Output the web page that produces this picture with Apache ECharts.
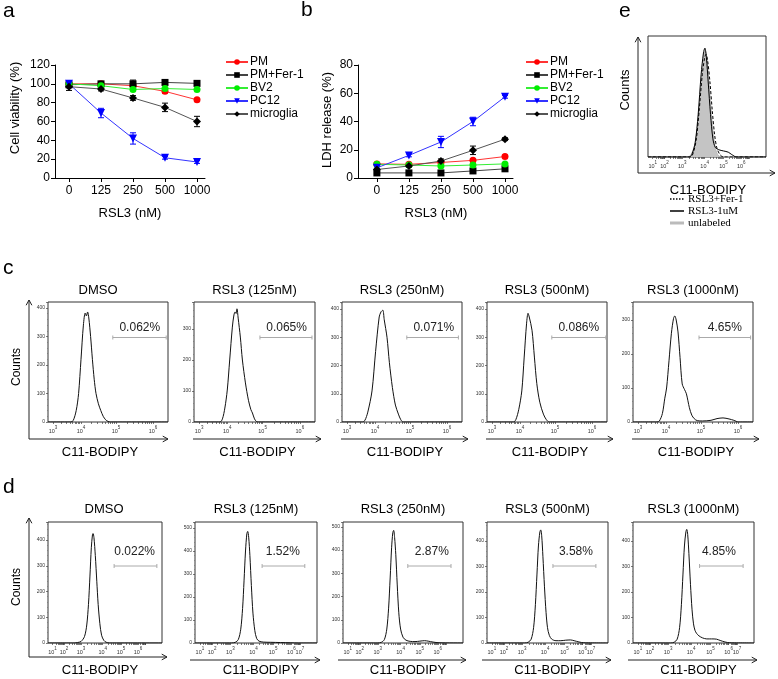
<!DOCTYPE html>
<html><head><meta charset="utf-8">
<script src="https://cdn.jsdelivr.net/npm/echarts@6/dist/echarts.min.js"></script>
<style>html,body{margin:0;padding:0;background:#fff}#c{width:778px;height:679px}</style>
</head><body><div id="c"></div>
<script>
// ---------------- DATA ----------------
const doses = ['0','125','250','500','1000'];
const groupNames = ['PM','PM+Fer-1','BV2','PC12','microglia'];

// a: cell viability (%)
const viabPM    = [100, 100, 98, 92, 83];
const viabPMFer = [99, 100, 100, 101.5, 100.5];
const viabBV2   = [100, 98, 94, 95, 94];
const viabPC12  = [100, 69, 42, 21.5, 17];
const viabMicro = [97, 94.5, 85, 75, 60];
const viabErrPM    = [2, 1.5, 2, 2, 1.5];
const viabErrPMFer = [3, 1.5, 4, 1.5, 1];
const viabErrBV2   = [1, 1, 1, 1, 1];
const viabErrPC12  = [2, 5, 6, 1.5, 1.5];
const viabErrMicro = [4, 2, 2.5, 4.5, 5.5];

// b: LDH release (%)
const ldhPM    = [10, 9.7, 11, 12.5, 15.2];
const ldhPMFer = [3.6, 3.6, 3.6, 5, 6.5];
const ldhBV2   = [9.7, 9.2, 8.5, 9.2, 10];
const ldhPC12  = [7.2, 16, 25.5, 40, 57.5];
const ldhMicro = [6, 8.5, 12, 19.6, 27.5];
const ldhErrPM    = [1, 1, 1, 1, 1];
const ldhErrPMFer = [0.5, 0.5, 0.5, 0.5, 0.5];
const ldhErrBV2   = [1, 0.8, 0.8, 0.8, 0.8];
const ldhErrPC12  = [1, 1, 4, 3, 1];
const ldhErrMicro = [1, 1, 1.5, 3, 1];

// c: histograms [channel (0-1000), counts]
const cDMSO = [[0,0],[190,0],[210,5],[235,40],[255,100],[275,220],[295,340],[310,382],[320,372],[330,386],[340,365],[355,300],[370,220],[385,150],[400,100],[420,64],[440,40],[460,20],[480,8],[500,2],[520,0],[1000,0]];
const c125  = [[0,0],[215,0],[235,10],[255,45],[275,103],[295,200],[317,306],[330,345],[340,355],[348,350],[355,365],[365,335],[383,274],[400,200],[425,126],[450,70],[470,40],[483,29],[500,10],[515,2],[530,0],[1000,0]];
const c250  = [[0,0],[170,0],[190,5],[215,35],[250,110],[280,250],[310,372],[325,390],[340,396],[352,362],[375,300],[395,210],[420,122],[445,60],[470,28],[490,8],[510,0],[1000,0]];
const c500  = [[0,0],[220,0],[240,8],[265,45],[290,110],[310,230],[330,350],[342,385],[352,372],[375,325],[395,230],[415,136],[440,70],[470,28],[495,8],[520,0],[1000,0]];
const c1000 = [[0,0],[200,0],[220,3],[245,25],[265,70],[280,100],[300,180],[320,261],[338,305],[348,312],[360,300],[375,265],[392,190],[410,112],[430,95],[445,83],[470,42],[490,20],[510,10],[535,4],[580,3],[650,5],[700,10],[750,12],[800,9],[840,5],[880,0],[1000,0]];

// d: histograms
const dDMSO = [[0,0],[230,0],[260,2],[290,6],[320,25],[340,70],[355,150],[368,260],[380,370],[390,420],[395,425],[403,410],[415,340],[428,240],[440,150],[455,75],[470,30],[490,10],[510,3],[540,0],[1000,0]];
const d125  = [[0,0],[300,0],[330,3],[355,15],[375,60],[390,150],[402,270],[414,400],[425,475],[432,485],[440,460],[450,380],[462,250],[475,130],[490,55],[505,20],[525,8],[560,4],[620,3],[700,2],[780,1],[850,0],[1000,0]];
const d250  = [[0,0],[290,0],[320,3],[345,15],[365,60],[380,150],[393,280],[405,410],[415,475],[422,485],[430,455],[440,380],[452,250],[465,130],[480,60],[500,25],[525,12],[560,7],[600,6],[640,8],[680,10],[710,8],[750,4],[800,1],[1000,0]];
const d500  = [[0,0],[310,0],[340,3],[365,15],[385,60],[400,150],[413,270],[425,380],[437,435],[444,443],[452,420],[462,340],[475,220],[488,120],[500,60],[515,30],[535,15],[570,9],[610,9],[650,11],[690,12],[720,9],[760,4],[800,1],[1000,0]];
const d1000 = [[0,0],[310,0],[340,3],[365,15],[385,60],[400,150],[413,270],[425,380],[437,435],[444,445],[452,425],[462,350],[475,230],[488,130],[500,75],[512,50],[525,38],[545,28],[575,20],[610,16],[650,16],[690,15],[720,10],[760,4],[800,1],[1000,0]];

// e: overlay histograms (relative counts)
const eUnlabeled = [[0,0],[340,0],[370,3],[400,12],[430,35],[455,65],[475,85],[485,88],[495,84],[510,70],[530,45],[550,22],[570,8],[590,2],[620,0],[1000,0]];
const eRSL3      = [[0,0],[350,0],[375,3],[400,12],[425,35],[450,68],[470,86],[482,90],[495,82],[510,62],[530,35],[550,15],[570,8],[600,6],[640,5],[680,4],[710,2],[750,0],[1000,0]];
const eRSL3Fer   = [[0,0],[360,0],[385,4],[410,15],[435,40],[460,68],[480,82],[492,85],[505,80],[525,62],[545,38],[565,18],[585,7],[610,2],[640,0],[1000,0]];

// text labels
const histTitles = ['DMSO','RSL3 (125nM)','RSL3 (250nM)','RSL3 (500nM)','RSL3 (1000nM)'];
const cPercents = ['0.062%','0.065%','0.071%','0.086%','4.65%'];
const dPercents = ['0.022%','1.52%','2.87%','3.58%','4.85%'];
const eLegendNames = ['RSL3+Fer-1','RSL3-1uM','unlabeled'];
const cTickExp = [3,4,5,6];
const dTickExp = [1,2,3,4,5,6,7];

// ---------------- STYLE / LAYOUT ----------------
const FONT = '"Liberation Sans", Arial, Helvetica, sans-serif';
const SERIF = '"Liberation Serif", "Times New Roman", serif';
const groupColors = ['#ff0000','#000000','#00ee00','#0000ff','#000000'];
const groupLines  = ['#ff3333','#444444','#33ee33','#3333ff','#555555'];
const groupSymbols = ['circle','rect','circle','triangle','diamond'];
const groupRotate  = [0,0,0,180,0];
const groupSizes   = [7,7,7,8,8];

const grid=[], xAxis=[], yAxis=[], series=[], graphic=[];
function addPanel(box, xa, ya){
  grid.push(Object.assign({containLabel:false}, box));
  const gi = grid.length-1;
  xAxis.push(Object.assign({gridIndex:gi}, xa));
  yAxis.push(Object.assign({gridIndex:gi}, ya));
  return gi;
}
function setAlign(style, a, va){ style.align=a; style.textAlign=a; style.verticalAlign=va; style.textVerticalAlign=va; return style; }
function txt(x,y,text,size,o){
  o=o||{};
  graphic.push({type:'text', x:x, y:y, rotation:o.rot||0, silent:true, z:10,
    style:setAlign({text:text, fontSize:size, fontFamily:o.ff||FONT, fill:o.fill||'#000', fontWeight:o.fw||'normal'}, o.align||'center', o.va||'middle')});
}
function line(x1,y1,x2,y2,color,w,dash){
  graphic.push({type:'line', silent:true, z:10, shape:{x1:x1,y1:y1,x2:x2,y2:y2}, style:{stroke:color||'#222', lineWidth:w||1, lineDash:dash||null}});
}
function arrow(x1,y1,x2,y2){
  const ang=Math.atan2(y2-y1,x2-x1), L=6, a=0.5;
  line(x1,y1,x2,y2,'#222',1);
  graphic.push({type:'polyline', silent:true, z:10, shape:{points:[[x2-L*Math.cos(ang-a), y2-L*Math.sin(ang-a)],[x2,y2],[x2-L*Math.cos(ang+a), y2-L*Math.sin(ang+a)]]}, style:{stroke:'#222', lineWidth:1, fill:null}});
}

// ---------- dose-response panels ----------
function doseX(min,max){
  return {type:'value', min:min, max:max,
    axisLine:{show:true,onZero:false,lineStyle:{color:'#000',width:1}},
    axisTick:{show:true,customValues:[0,1,2,3,4],length:4,lineStyle:{color:'#000'}},
    axisLabel:{show:true,customValues:[0,1,2,3,4],formatter:function(v){return doses[Math.round(v)];},fontSize:12,color:'#000',fontFamily:FONT,margin:7},
    splitLine:{show:false}};
}
function doseY(max){
  return {type:'value', min:0, max:max, interval:20,
    axisLine:{show:true,onZero:false,lineStyle:{color:'#000',width:1}},
    axisTick:{show:true,length:4,lineStyle:{color:'#000'}},
    axisLabel:{fontSize:12,color:'#000',fontFamily:FONT,margin:5},
    splitLine:{show:false}};
}
function addDose(gi, vals, errs){
  vals.forEach(function(arr,k){
    const c = groupColors[k];
    series.push({type:'custom', name:'err'+gi+'_'+k, xAxisIndex:gi, yAxisIndex:gi, z:1, silent:true,
      encode:{x:0,y:[1,2]},
      data: arr.map(function(v,i){return [i, v-errs[k][i], v+errs[k][i]];}),
      renderItem:function(p,api){
        const top=api.coord([api.value(0),api.value(2)]), bot=api.coord([api.value(0),api.value(1)]), w=3;
        return {type:'group', children:[
          {type:'line', shape:{x1:top[0],y1:top[1],x2:bot[0],y2:bot[1]}, style:{stroke:c,lineWidth:1}},
          {type:'line', shape:{x1:top[0]-w,y1:top[1],x2:top[0]+w,y2:top[1]}, style:{stroke:c,lineWidth:1}},
          {type:'line', shape:{x1:bot[0]-w,y1:bot[1],x2:bot[0]+w,y2:bot[1]}, style:{stroke:c,lineWidth:1}}]};
      }});
    series.push({type:'line', name:groupNames[k], xAxisIndex:gi, yAxisIndex:gi, z:3,
      data: arr.map(function(v,i){return [i,v];}),
      symbol:groupSymbols[k], symbolRotate:groupRotate[k], symbolSize:groupSizes[k], showAllSymbol:true,
      itemStyle:{color:c}, lineStyle:{color:groupLines[k], width:1}});
  });
}
const gA = addPanel({left:55, top:65, width:150, height:113}, doseX(-0.4375, 4.25), doseY(120));
addDose(gA, [viabPM,viabPMFer,viabBV2,viabPC12,viabMicro], [viabErrPM,viabErrPMFer,viabErrBV2,viabErrPC12,viabErrMicro]);
const gB = addPanel({left:358, top:65, width:155, height:113}, doseX(-0.59, 4.25), doseY(80));
addDose(gB, [ldhPM,ldhPMFer,ldhBV2,ldhPC12,ldhMicro], [ldhErrPM,ldhErrPMFer,ldhErrBV2,ldhErrPC12,ldhErrMicro]);

txt(15, 108, 'Cell viability (%)', 13, {rot:Math.PI/2});
txt(130, 213, 'RSL3 (nM)', 13);
txt(327, 120, 'LDH release (%)', 13, {rot:Math.PI/2});
txt(436, 213, 'RSL3 (nM)', 13);

// ---------- histogram panels ----------
function histX(pos, exps){
  const minor=[];
  for(let k=0;k<pos.length-1;k++) for(let m=2;m<10;m++) minor.push(pos[k]+(pos[k+1]-pos[k])*Math.log10(m));
  return {type:'value', min:0, max:1000, axisLine:{show:false,onZero:false}, splitLine:{show:false},
    axisTick:{show:true, customValues:pos.concat(minor), length:2, lineStyle:{color:'#444', width:0.7}},
    axisLabel:{show:true, customValues:pos, margin:3, formatter:function(v){const i=pos.indexOf(v); return '{b|10}{s|'+exps[i]+'}';},
      rich:{b:{fontSize:5.5,color:'#333',fontFamily:FONT,verticalAlign:'bottom',lineHeight:9},
            s:{fontSize:4.5,color:'#333',fontFamily:FONT,verticalAlign:'top',lineHeight:9}}}};
}
function histY(max, show){
  return {type:'value', min:0, max:max, interval:100, splitLine:{show:false},
    axisLine:{show:false,onZero:false},
    axisTick:{show:show,length:2,lineStyle:{color:'#444',width:0.7}},
    minorTick:{show:show,splitNumber:5,length:1,lineStyle:{color:'#666',width:0.5}},
    axisLabel:{show:show,fontSize:5,color:'#333',fontFamily:FONT,margin:3,showMaxLabel:false}};
}
const boxStyle = {show:true, borderColor:'#333', borderWidth:1, backgroundColor:'transparent'};
function histSeries(gi, data, o){
  o=o||{};
  series.push({type:'line', xAxisIndex:gi, yAxisIndex:gi, data:data, showSymbol:false, smooth:0.3, silent:true, z:o.z||3,
    lineStyle:{color:o.color||'#111', width:1, type:o.type||'solid'},
    areaStyle:o.area?{color:o.area, opacity:1}:null});
}
function gate(box, f1, f2, y, label, tf, ty){
  const x1=box.left+box.width*f1, x2=box.left+box.width*f2;
  line(x1,y,x2,y,'#aaa',1); line(x1,y-2,x1,y+2,'#aaa',1); line(x2,y-2,x2,y+2,'#aaa',1);
  txt(box.left+box.width*tf, ty, label, 12, {fill:'#222'});
}

const cTickPos = [42,275,567,875];
const dTickPos = [40,140,290,480,640,790,860];

// panel c
const cBoxes = [{left:48,width:120},{left:194,width:121},{left:342,width:120},{left:487,width:120},{left:633,width:120}];
const cMax = [421,387,425,425,353];
const cGates = [[0.54,0.985],[0.545,0.975],[0.54,0.97],[0.54,0.99],[0.55,0.98]];
const cHists = [cDMSO,c125,c250,c500,c1000];
cBoxes.forEach(function(b,i){
  const box = Object.assign({top:302, height:120}, b, boxStyle);
  const gi = addPanel(box, histX(cTickPos,cTickExp), histY(cMax[i], true));
  histSeries(gi, cHists[i]);
  txt(i===0?98:b.left+b.width/2, 290, histTitles[i], 13);
  gate(box, cGates[i][0], cGates[i][1], 337.5, cPercents[i], 0.765, 328);
  txt(i===0?100:b.left+b.width/2+3, 452, 'C11-BODIPY', 13);
  if(i===0){ arrow(29,439,29,300); arrow(29,439,168,439); }
  else arrow(b.left-1,439,b.left+b.width+6,439);
});
txt(17, 367, 'Counts', 12, {rot:Math.PI/2});

// panel d
const dBoxes = [{left:48,width:114},{left:195,width:122},{left:343,width:120},{left:487,width:121},{left:633,width:121}];
const dMax = [470,526,521,474,474];
const dGates = [[0.58,0.955],[0.55,0.9],[0.54,0.9],[0.545,0.9],[0.55,0.91]];
const dTextF = [0.76,0.72,0.74,0.735,0.71];
const dHists = [dDMSO,d125,d250,d500,d1000];
dBoxes.forEach(function(b,i){
  const box = Object.assign({top:522, height:121}, b, boxStyle);
  const gi = addPanel(box, histX(dTickPos,dTickExp), histY(dMax[i], true));
  histSeries(gi, dHists[i]);
  txt(i===0?104:b.left+b.width/2, 509, histTitles[i], 13);
  gate(box, dGates[i][0], dGates[i][1], 566, dPercents[i], dTextF[i], 552);
  txt(i===0?100:b.left+b.width/2+5, 670, 'C11-BODIPY', 13);
  if(i===0){ arrow(29,657,29,518); arrow(29,657,167,657); }
  else arrow(b.left-5,660,b.left+b.width+3,660);
});
txt(17, 587, 'Counts', 12, {rot:Math.PI/2});

// panel e
const eBox = Object.assign({left:648, top:36, width:118, height:121}, boxStyle);
const gE = addPanel(eBox, histX(dTickPos,dTickExp), histY(100, false));
histSeries(gE, eUnlabeled, {color:'#b8b8b8', area:'#c4c4c4', z:2});
histSeries(gE, eRSL3, {color:'#000', z:3});
histSeries(gE, eRSL3Fer, {color:'#000', type:[3,2], z:4});
arrow(638,173,638,37); arrow(638,173,775,173);
txt(625, 90, 'Counts', 13, {rot:Math.PI/2});
txt(708, 190, 'C11-BODIPY', 13);
line(670,199,684,199,'#000',1.5,[1.5,1.5]);
line(670,211,684,211,'#000',1.5);
graphic.push({type:'rect', silent:true, z:10, shape:{x:670,y:221.5,width:14,height:3}, style:{fill:'#bbb'}});
eLegendNames.forEach(function(n,i){ txt(688, 199+i*12, n, 11, {ff:SERIF, align:'left'}); });

// panel letters
txt(3, 11, 'a', 21, {align:'left', va:'middle'});
txt(301, 10, 'b', 21, {align:'left', va:'middle'});
txt(619, 11, 'e', 21, {align:'left', va:'middle'});
txt(3, 268, 'c', 21, {align:'left', va:'middle'});
txt(3, 487, 'd', 21, {align:'left', va:'middle'});

const legendBase = {data:groupNames, orient:'vertical', top:51, itemWidth:22, itemHeight:7, itemGap:1, selectedMode:false,
  textStyle:{fontSize:12, fontFamily:FONT, color:'#000', padding:[0,0,0,-3]}};

const chart = echarts.init(document.getElementById('c'), null, {renderer:'canvas', width:778, height:679});
chart.setOption({
  animation:false,
  backgroundColor:'#fff',
  grid:grid, xAxis:xAxis, yAxis:yAxis, series:series, graphic:graphic,
  legend:[Object.assign({left:220}, legendBase), Object.assign({left:520}, legendBase)]
});
</script></body></html>
